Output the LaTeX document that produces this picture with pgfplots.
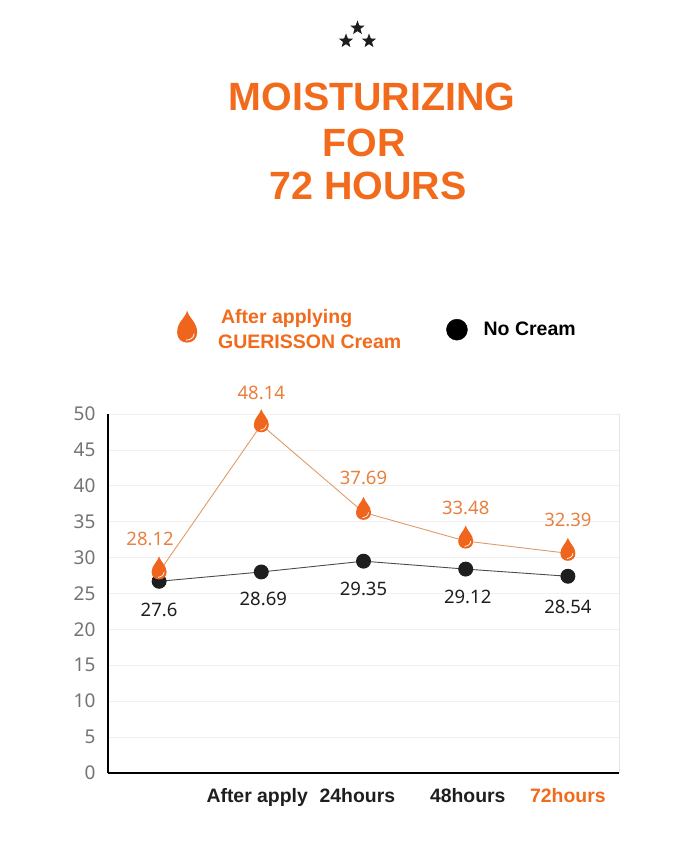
\documentclass[border=0pt]{standalone}
\usepackage{pgfplots}
\usepackage{pgfplotstable}
\usepackage{fontspec}
\usetikzlibrary{shapes.geometric}
\pgfplotsset{compat=1.18}
\setmainfont{Liberation Sans}
\newfontfamily\labfont{Noto Sans}
\definecolor{oranget}{HTML}{F26A1B}
\definecolor{orangel}{HTML}{E8803F}
\definecolor{orangem}{HTML}{F0651E}
\definecolor{lineo}{HTML}{E09A68}
\definecolor{blk}{HTML}{1E1E1E}
\pgfdeclareplotmark{drop}{%
  \pgfsetfillcolor{orangem}\pgfsetstrokecolor{orangem}%
  \pgfpathmoveto{\pgfpoint{0pt}{15.5pt}}%
  \pgfpathcurveto{\pgfpoint{1.6pt}{10pt}}{\pgfpoint{7.5pt}{6.5pt}}{\pgfpoint{7.5pt}{0pt}}%
  \pgfpathcurveto{\pgfpoint{7.5pt}{-4.5pt}}{\pgfpoint{4.4pt}{-7.5pt}}{\pgfpoint{0pt}{-7.5pt}}%
  \pgfpathcurveto{\pgfpoint{-4.4pt}{-7.5pt}}{\pgfpoint{-7.5pt}{-4.5pt}}{\pgfpoint{-7.5pt}{0pt}}%
  \pgfpathcurveto{\pgfpoint{-7.5pt}{6.5pt}}{\pgfpoint{-1.6pt}{10pt}}{\pgfpoint{0pt}{15.5pt}}%
  \pgfpathclose\pgfusepathqfill
  \pgfsetstrokecolor{white}\pgfsetlinewidth{0.7pt}%
  \pgfpathmoveto{\pgfpoint{-1pt}{-5.5pt}}%
  \pgfpathcurveto{\pgfpoint{2pt}{-5.5pt}}{\pgfpoint{5pt}{-3pt}}{\pgfpoint{5pt}{0pt}}%
  \pgfusepathqstroke
}
\pgfdeclareplotmark{bigdrop}{%
  \pgfsetfillcolor{orangem}%
  \pgfpathmoveto{\pgfpoint{0pt}{19pt}}%
  \pgfpathcurveto{\pgfpoint{2pt}{11pt}}{\pgfpoint{10pt}{8pt}}{\pgfpoint{10pt}{-3pt}}%
  \pgfpathcurveto{\pgfpoint{10pt}{-9pt}}{\pgfpoint{5.5pt}{-13pt}}{\pgfpoint{0pt}{-13pt}}%
  \pgfpathcurveto{\pgfpoint{-5.5pt}{-13pt}}{\pgfpoint{-10pt}{-9pt}}{\pgfpoint{-10pt}{-3pt}}%
  \pgfpathcurveto{\pgfpoint{-10pt}{8pt}}{\pgfpoint{-2pt}{11pt}}{\pgfpoint{0pt}{19pt}}%
  \pgfpathclose\pgfusepathqfill
  \pgfsetstrokecolor{white}\pgfsetlinewidth{0.8pt}%
  \pgfpathmoveto{\pgfpoint{-1pt}{-10.5pt}}%
  \pgfpathcurveto{\pgfpoint{3pt}{-10.5pt}}{\pgfpoint{7pt}{-8pt}}{\pgfpoint{7pt}{-4pt}}%
  \pgfusepathqstroke
}
\pgfplotstableread{
x   y      lab    dx   dy
0   28.0   28.12  -9   33
1   48.5   48.14  0    32
2   36.3   37.69  0    34
3   32.3   33.48  0    33
4   30.6   32.39  0    33
}\orangedata
\pgfplotstableread{
x   y      lab    dx   dy
0   26.7   27.6   0    -29
1   28.0   28.69  2    -27
2   29.5   29.35  0    -28
3   28.4   29.12  2    -28
4   27.4   28.54  0    -31
}\blackdata
\begin{document}
\begin{tikzpicture}[x=1pt,y=1pt,
  st/.style={star,star points=5,star point ratio=2.4,fill=blk,inner sep=0pt,minimum size=15pt}]
\path[use as bounding box] (0,0) rectangle (700,852);
\node[st] at (357.5,824) {};
\node[st] at (346,811) {};
\node[st] at (369,811) {};
\node[font=\bfseries\fontsize{39.4}{39.4}\selectfont,text=oranget] at (372,755) {MOISTURIZING};
\node[font=\bfseries\fontsize{39.4}{39.4}\selectfont,text=oranget] at (364,709) {FOR};
\node[font=\bfseries\fontsize{39.4}{39.4}\selectfont,text=oranget] at (368,666) {72 HOURS};
\begin{axis}[
  at={(108pt,79pt)},anchor=south west,
  scale only axis,width=511pt,height=359pt,
  xmin=-0.5,xmax=4.5,ymin=0,ymax=50,
  axis x line=bottom,axis y line=left,
  axis line style={-,black,line width=2.8pt},
  ytick={0,5,...,50},
  xtick={0.96,1.94,3.02,4.0},
  xticklabels={After apply,24hours,48hours,\textcolor{oranget}{72hours}},
  extra x ticks={4.5},
  extra x tick labels={},
  extra x tick style={xmajorgrids=true,grid style={black!10,line width=0.8pt}},
  x tick label style={font=\bfseries\fontsize{19.4}{19.4}\selectfont,text=blk,yshift=-12pt},
  y tick label style={font=\labfont\fontsize{19}{19}\selectfont,text=black!55,xshift=-9pt},
  /pgf/number format/assume math mode=true,
  major tick length=0pt,
  ymajorgrids,
  grid style={black!6,line width=0.7pt},
  clip=false,
  point meta=explicit symbolic,
  nodes near coords,
  visualization depends on={\thisrow{dx}\as\ldx},
  visualization depends on={\thisrow{dy}\as\ldy},
  every node near coord/.style={anchor=center,font=\labfont\fontsize{18.5}{18.5}\selectfont,xshift=\ldx pt,yshift=\ldy pt},
  legend columns=2,
  legend style={at={(0.129,1.167)},anchor=south west,draw=none,fill=none,
    font=\bfseries\fontsize{19.5}{22}\selectfont,
    /tikz/every even column/.append style={column sep=43pt}},
  legend cell align=left,
]
\addplot[forget plot,black!70,line width=0.9pt,mark=*,mark size=7pt,
  mark options={fill=blk,draw=blk},
  every node near coord/.append style={text=blk}]
  table[x=x,y=y,meta=lab]{\blackdata};
\addplot[forget plot,lineo,line width=0.9pt,mark=drop,
  every node near coord/.append style={text=orangel}]
  table[x=x,y=y,meta=lab]{\orangedata};
\addlegendimage{legend image code/.code={\pgfuseplotmark{bigdrop}}}
\addlegendentry{\hspace*{19pt}\shortstack[l]{\textcolor{oranget}{\hspace*{3pt}After applying}\\[4pt]\textcolor{oranget}{GUERISSON Cream}}}
\addlegendimage{legend image code/.code={\fill[black] (0pt,0pt) circle (10.5pt);}}
\addlegendentry{\hspace*{14pt}No Cream}
\end{axis}
\end{tikzpicture}
\end{document}
